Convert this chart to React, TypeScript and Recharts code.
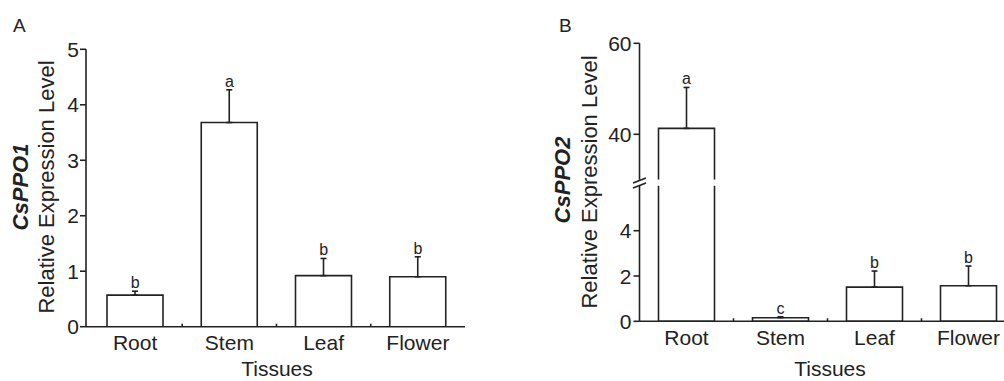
import React from "react";
import { ComposedChart, Bar, Line, XAxis, YAxis, ErrorBar, LabelList } from "recharts";

const tissues = ["Root", "Stem", "Leaf", "Flower"];

// CsPPO1 relative expression (mean, sd, significance letter)
const ppo1Mean = [0.57, 3.68, 0.92, 0.9];
const ppo1Sd = [0.07, 0.59, 0.31, 0.36];
const ppo1Sig = ["b", "a", "b", "b"];

// CsPPO2 relative expression
const ppo2Mean = [41.3, 0.16, 1.51, 1.57];
const ppo2Sd = [9.0, 0.04, 0.71, 0.87];
const ppo2Sig = ["a", "c", "b", "b"];

const ppo1Ticks = [0, 1, 2, 3, 4, 5];
const ppo2LowTicks = [0, 2, 4];
const ppo2HighTicks = [40, 60];
const ppo2LowDomain: [number, number] = [0, 6];
const ppo2HighDomain: [number, number] = [30, 60];

const INK = "#222";
const FONT = '"Liberation Sans", Arial, sans-serif';
const LW = 1.6;

type Row = { tissue: string; mean: number; sd: number; top: number; sig: string };

const makeRows = (mean: number[], sd: number[], sig: string[]): Row[] =>
  tissues.map((t, i) => ({ tissue: t, mean: mean[i], sd: sd[i], top: mean[i] + sd[i], sig: sig[i] }));

const ppo1Rows = makeRows(ppo1Mean, ppo1Sd, ppo1Sig);
const ppo2Rows = makeRows(ppo2Mean, ppo2Sd, ppo2Sig);

const inHigh = (r: Row) => r.mean > ppo2HighDomain[0];
const inLow = (r: Row) => r.mean < ppo2LowDomain[1];
const always = () => true;

// bar outline; open at the side where the axis is broken
const barShape = (openBottom: boolean) => (props: any) => {
  const { x, y, width, height, background } = props;
  if (x == null || y == null || height == null) return <g />;
  let y0 = Math.min(y, y + height);
  let y1 = Math.max(y, y + height);
  const bgTop = background ? background.y : -Infinity;
  const bgBot = background ? background.y + background.height : Infinity;
  const openTop = y0 < bgTop - 0.5;
  y0 = Math.max(y0, bgTop);
  y1 = Math.min(y1, bgBot);
  if (y1 - y0 < 0.5) return <g />;
  const x1 = x + width;
  let d = `M${x},${y1}L${x},${y0}L${x1},${y0}L${x1},${y1}Z`;
  if (openTop) d = `M${x},${y0}L${x},${y1}L${x1},${y1}L${x1},${y0}`;
  else if (openBottom) d = `M${x},${y1}L${x},${y0}L${x1},${y0}L${x1},${y1}`;
  return <path d={d} fill="#fff" stroke={INK} strokeWidth={LW} />;
};

const sigLabel = (rows: Row[], keep: (r: Row) => boolean) => (props: any) => {
  const row = rows[props.index];
  if (!row || !keep(row)) return null;
  const vb = props.viewBox || {};
  const x = props.x ?? vb.x;
  const y = props.y ?? vb.y;
  if (x == null || y == null || !isFinite(y)) return null;
  return (
    <text x={x} y={y - 3} textAnchor="middle" fontSize={16} fill={INK} fontFamily={FONT}>
      {row.sig}
    </text>
  );
};

const tissueTick = (half: number) => (props: any) => {
  const { x, y, payload, index } = props;
  const axisY = y - 10;
  return (
    <g>
      <text x={x} y={axisY + 23.5} textAnchor="middle" fontSize={21} fill={INK} fontFamily={FONT}>
        {payload.value}
      </text>
      {index < tissues.length - 1 && (
        <line x1={x + half} x2={x + half} y1={axisY} y2={axisY - 3} stroke={INK} strokeWidth={LW} />
      )}
    </g>
  );
};

const ValueTick = (props: any) => {
  const { x, y, payload } = props;
  return (
    <text x={x} y={y} dy={7.5} textAnchor="end" fontSize={21} fill={INK} fontFamily={FONT}>
      {payload.value}
    </text>
  );
};

const axisStyle = { stroke: INK, strokeWidth: LW };

export default function App() {
  return (
    <div
      style={{
        position: "absolute",
        left: 0,
        top: 0,
        width: 1004,
        height: 381,
        overflow: "hidden",
        background: "#fff",
        fontFamily: FONT,
      }}
    >
      {/* panel A */}
      <div style={{ position: "absolute", left: 0, top: 0 }}>
        <ComposedChart width={470} height={381} data={ppo1Rows} margin={{ top: 49.3, right: 5, bottom: 0, left: 0 }}>
          <XAxis
            dataKey="tissue"
            height={54.3}
            padding={{ left: 2, right: 0 }}
            axisLine={axisStyle}
            tickLine={false}
            tickSize={6}
            tickMargin={4}
            interval={0}
            tick={tissueTick(47.1)}
          />
          <YAxis
            width={86}
            domain={[0, 5]}
            ticks={ppo1Ticks}
            interval={0}
            allowDataOverflow
            axisLine={axisStyle}
            tickLine={axisStyle}
            tickSize={6}
            tickMargin={1}
            tick={<ValueTick />}
          />
          <Bar dataKey="mean" barSize={56} isAnimationActive={false} shape={barShape(false)}>
            <ErrorBar dataKey={(d: Row) => [0, d.sd]} width={3} stroke={INK} strokeWidth={LW} direction="y" />
          </Bar>
          <Line dataKey="top" stroke="none" dot={false} activeDot={false} isAnimationActive={false}>
            <LabelList dataKey="sig" content={sigLabel(ppo1Rows, always)} />
          </Line>
        </ComposedChart>
      </div>

      {/* panel B, upper segment of broken axis */}
      <div style={{ position: "absolute", left: 500, top: 0 }}>
        <ComposedChart width={515.5} height={381} data={ppo2Rows} margin={{ top: 43.3, right: 0, bottom: 0, left: 0 }}>
          <XAxis dataKey="tissue" height={201.2} axisLine={false} tickLine={false} tick={false} />
          <YAxis
            width={139.5}
            domain={ppo2HighDomain}
            ticks={ppo2HighTicks}
            interval={0}
            allowDataOverflow
            axisLine={axisStyle}
            tickLine={axisStyle}
            tickSize={6}
            tickMargin={2}
            tick={<ValueTick />}
          />
          <Bar dataKey="mean" barSize={56} isAnimationActive={false} shape={barShape(true)}>
            <ErrorBar
              dataKey={(d: Row) => (inHigh(d) ? [0, d.sd] : null)}
              width={3}
              stroke={INK}
              strokeWidth={LW}
              direction="y"
            />
          </Bar>
          <Line
            dataKey={(d: Row) => (inHigh(d) ? d.top : null)}
            stroke="none"
            dot={false}
            activeDot={false}
            isAnimationActive={false}
          >
            <LabelList dataKey="sig" content={sigLabel(ppo2Rows, inHigh)} />
          </Line>
        </ComposedChart>
      </div>

      {/* panel B, lower segment */}
      <div style={{ position: "absolute", left: 500, top: 0 }}>
        <ComposedChart width={515.5} height={381} data={ppo2Rows} margin={{ top: 185.4, right: 0, bottom: 0, left: 0 }}>
          <XAxis
            dataKey="tissue"
            height={59.7}
            axisLine={axisStyle}
            tickLine={false}
            tickSize={6}
            tickMargin={4}
            interval={0}
            tick={tissueTick(47)}
          />
          <YAxis
            width={139.5}
            domain={ppo2LowDomain}
            ticks={ppo2LowTicks}
            interval={0}
            allowDataOverflow
            axisLine={axisStyle}
            tickLine={axisStyle}
            tickSize={6}
            tickMargin={2}
            tick={<ValueTick />}
          />
          <Bar dataKey="mean" barSize={56} isAnimationActive={false} shape={barShape(false)}>
            <ErrorBar
              dataKey={(d: Row) => (inLow(d) ? [0, d.sd] : null)}
              width={3}
              stroke={INK}
              strokeWidth={LW}
              direction="y"
            />
          </Bar>
          <Line
            dataKey={(d: Row) => (inLow(d) ? d.top : null)}
            stroke="none"
            dot={false}
            activeDot={false}
            isAnimationActive={false}
          >
            <LabelList dataKey="sig" content={sigLabel(ppo2Rows, inLow)} />
          </Line>
        </ComposedChart>
      </div>

      {/* titles and axis break */}
      <svg
        width={1004}
        height={381}
        style={{ position: "absolute", left: 0, top: 0, pointerEvents: "none" }}
        fontFamily={FONT}
        fill={INK}
      >
        <text x={13} y={32} fontSize={19}>A</text>
        <text x={559} y={32} fontSize={19}>B</text>

        <text transform="translate(28,187) rotate(-90)" textAnchor="middle" fontSize={22} fontWeight="bold" fontStyle="italic">
          CsPPO1
        </text>
        <text transform="translate(54,187) rotate(-90)" textAnchor="middle" fontSize={22}>
          Relative Expression Level
        </text>
        <text transform="translate(570,180) rotate(-90)" textAnchor="middle" fontSize={22} fontWeight="bold" fontStyle="italic">
          CsPPO2
        </text>
        <text transform="translate(597,182) rotate(-90)" textAnchor="middle" fontSize={22}>
          Relative Expression Level
        </text>

        <text x={277} y={376} textAnchor="middle" fontSize={21}>Tissues</text>
        <text x={830} y={376} textAnchor="middle" fontSize={21}>Tissues</text>

        <line x1={633} y1={183} x2={646} y2={178} stroke={INK} strokeWidth={LW} />
        <line x1={633} y1={188} x2={646} y2={183} stroke={INK} strokeWidth={LW} />
      </svg>
    </div>
  );
}
